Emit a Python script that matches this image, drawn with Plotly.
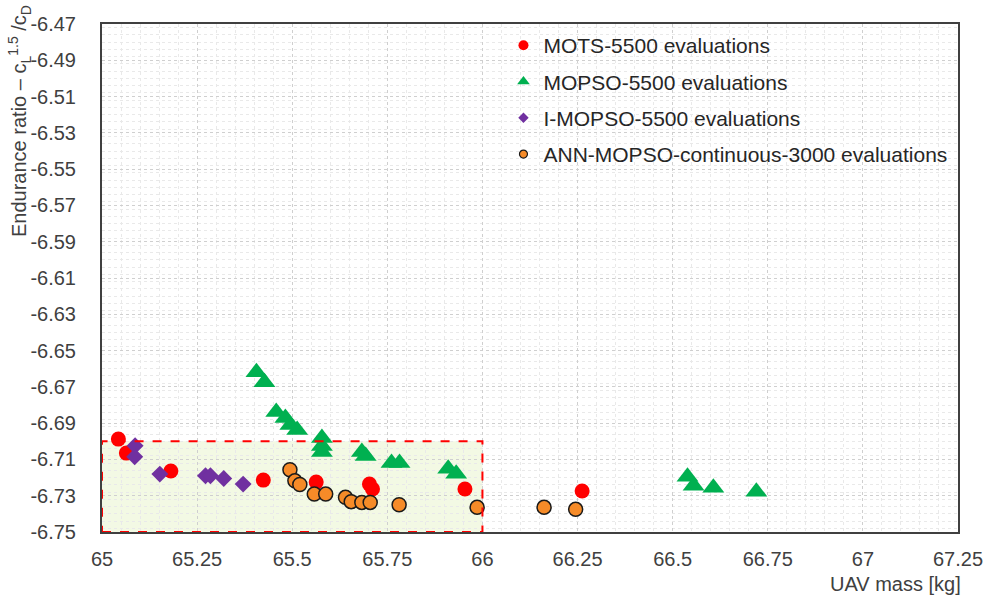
import plotly.graph_objects as go

# Pareto fronts: UAV mass [kg] vs endurance ratio objective
mots_mass = [65.043, 65.064, 65.181, 65.424, 65.563, 65.703, 65.711, 65.954, 66.262]
mots_endur = [-6.6988, -6.7065, -6.7164, -6.7214, -6.7225, -6.7236, -6.7263, -6.7263, -6.7274]

mopso_mass = [65.406, 65.427, 65.458, 65.482, 65.495, 65.513, 65.578, 65.578, 65.578,
              65.683, 65.693, 65.761, 65.782, 65.910, 65.931, 66.539, 66.555, 66.607, 66.720]
mopso_endur = [-6.6619, -6.6674, -6.6839, -6.6872, -6.6910, -6.6938, -6.6982, -6.7026, -6.7059,
               -6.7059, -6.7081, -6.7120, -6.7119, -6.7152, -6.7179, -6.7195, -6.7245, -6.7256, -6.7278]

imopso_mass = [65.087, 65.086, 65.152, 65.272, 65.285, 65.320, 65.371]
imopso_endur = [-6.7025, -6.7085, -6.7181, -6.7190, -6.7190, -6.7205, -6.7236]

ann_mass = [65.494, 65.507, 65.520, 65.558, 65.588, 65.640, 65.655, 65.683, 65.705,
            65.781, 65.986, 66.162, 66.245]
ann_endur = [-6.7157, -6.7218, -6.7238, -6.7291, -6.7291, -6.7309, -6.7333, -6.7337, -6.7337,
             -6.7350, -6.7364, -6.7364, -6.7375]

series_names = ["MOTS-5500 evaluations", "MOPSO-5500 evaluations",
                "I-MOPSO-5500 evaluations", "ANN-MOPSO-continuous-3000 evaluations"]

x_ticks = [65, 65.25, 65.5, 65.75, 66, 66.25, 66.5, 66.75, 67, 67.25]
x_tick_text = ["65", "65.25", "65.5", "65.75", "66", "66.25", "66.5", "66.75", "67", "67.25"]
y_ticks = [-6.47, -6.49, -6.51, -6.53, -6.55, -6.57, -6.59, -6.61,
           -6.63, -6.65, -6.67, -6.69, -6.71, -6.73, -6.75]
y_tick_text = ["-6.47", "-6.49", "-6.51", "-6.53", "-6.55", "-6.57", "-6.59", "-6.61",
               "-6.63", "-6.65", "-6.67", "-6.69", "-6.71", "-6.73", "-6.75"]

# highlighted region of interest
roi_x = [65, 66]
roi_y = [-6.75, -6.70]

FONT = "Liberation Sans, Arial, sans-serif"
RED, GREEN, PURPLE, ORANGE = "#FF0000", "#00B050", "#7030A0", "#F68B28"

styles = [
    dict(symbol="circle", color=RED, size=15, line=dict(width=0)),
    dict(symbol="triangle-up", color=GREEN, size=19, line=dict(width=0)),
    dict(symbol="diamond", color=PURPLE, size=13, line=dict(width=0)),
    dict(symbol="circle", color=ORANGE, size=14, line=dict(width=1.5, color="#1a1a1a")),
]
legend_styles = [
    dict(symbol="circle", color=RED, size=10, line=dict(width=0)),
    dict(symbol="triangle-up", color=GREEN, size=11, line=dict(width=0)),
    dict(symbol="diamond", color=PURPLE, size=8, line=dict(width=0)),
    dict(symbol="circle", color=ORANGE, size=8, line=dict(width=1.2, color="#1a1a1a")),
]
data = [(mots_mass, mots_endur), (mopso_mass, mopso_endur),
        (imopso_mass, imopso_endur), (ann_mass, ann_endur)]

fig = go.Figure()

for (xs, ys), st in zip(data, styles):
    fig.add_trace(go.Scatter(x=xs, y=ys, mode="markers", marker=st,
                             showlegend=False, hoverinfo="x+y"))

# legend entries with small symbols
for i, (name, st) in enumerate(zip(series_names, legend_styles)):
    fig.add_trace(go.Scatter(x=[None], y=[None], mode="markers", marker=st,
                             name=name, legendgroup=f"g{i}", showlegend=True))

# region of interest: light fill under the grid, dashed outline on top
fig.add_shape(type="rect", xref="x", yref="y", x0=roi_x[0], x1=roi_x[1],
              y0=roi_y[0], y1=roi_y[1], fillcolor="#F3F9E4",
              line=dict(width=0), layer="below")
fig.add_shape(type="rect", xref="x", yref="y", x0=roi_x[0], x1=roi_x[1],
              y0=roi_y[0], y1=roi_y[1], fillcolor="rgba(0,0,0,0)",
              line=dict(color="#FF0000", width=2, dash="dash"), layer="above")

fig.update_xaxes(
    range=[65, 67.25], tickvals=x_ticks, ticktext=x_tick_text,
    showgrid=True, gridcolor="#cfcfcf", gridwidth=1, griddash="dot",
    minor=dict(dtick=0.05, showgrid=True, gridcolor="#e9e9e9", griddash="dot"),
    showline=True, linecolor="#404040", linewidth=2, mirror=True,
    ticks="", ticklabelstandoff=8, zeroline=False,
    tickfont=dict(family=FONT, size=20, color="#404040"),
)
fig.update_yaxes(
    range=[-6.75, -6.47], tickvals=y_ticks, ticktext=y_tick_text,
    showgrid=True, gridcolor="#cfcfcf", gridwidth=1, griddash="dot",
    minor=dict(dtick=0.004, showgrid=True, gridcolor="#e9e9e9", griddash="dot"),
    showline=True, linecolor="#404040", linewidth=2, mirror=True,
    ticks="", ticklabelstandoff=20, zeroline=False,
    tickfont=dict(family=FONT, size=20, color="#404040"),
)

fig.add_annotation(
    text="Endurance ratio – c<sub>L</sub><sup>1.5</sup> /c<sub>D</sub>",
    xref="paper", yref="paper", x=-0.097, y=0.809, textangle=-90,
    xanchor="center", yanchor="middle", showarrow=False,
    font=dict(family=FONT, size=20, color="#404040"),
)
fig.add_annotation(
    text="UAV mass [kg]", xref="paper", yref="paper", x=1.006, y=-0.102,
    xanchor="right", yanchor="middle", showarrow=False,
    font=dict(family=FONT, size=20, color="#404040"),
)

fig.update_layout(
    width=995, height=595,
    margin=dict(l=102, r=32, t=24, b=63),
    paper_bgcolor="white", plot_bgcolor="white",
    font=dict(family=FONT, size=20, color="#262626"),
    legend=dict(x=0.469, y=0.998, xanchor="left", yanchor="top",
                bgcolor="rgba(0,0,0,0)", tracegroupgap=6,
                traceorder="grouped",
                font=dict(family=FONT, size=21, color="#262626")),
)

fig.write_html("out.html")
